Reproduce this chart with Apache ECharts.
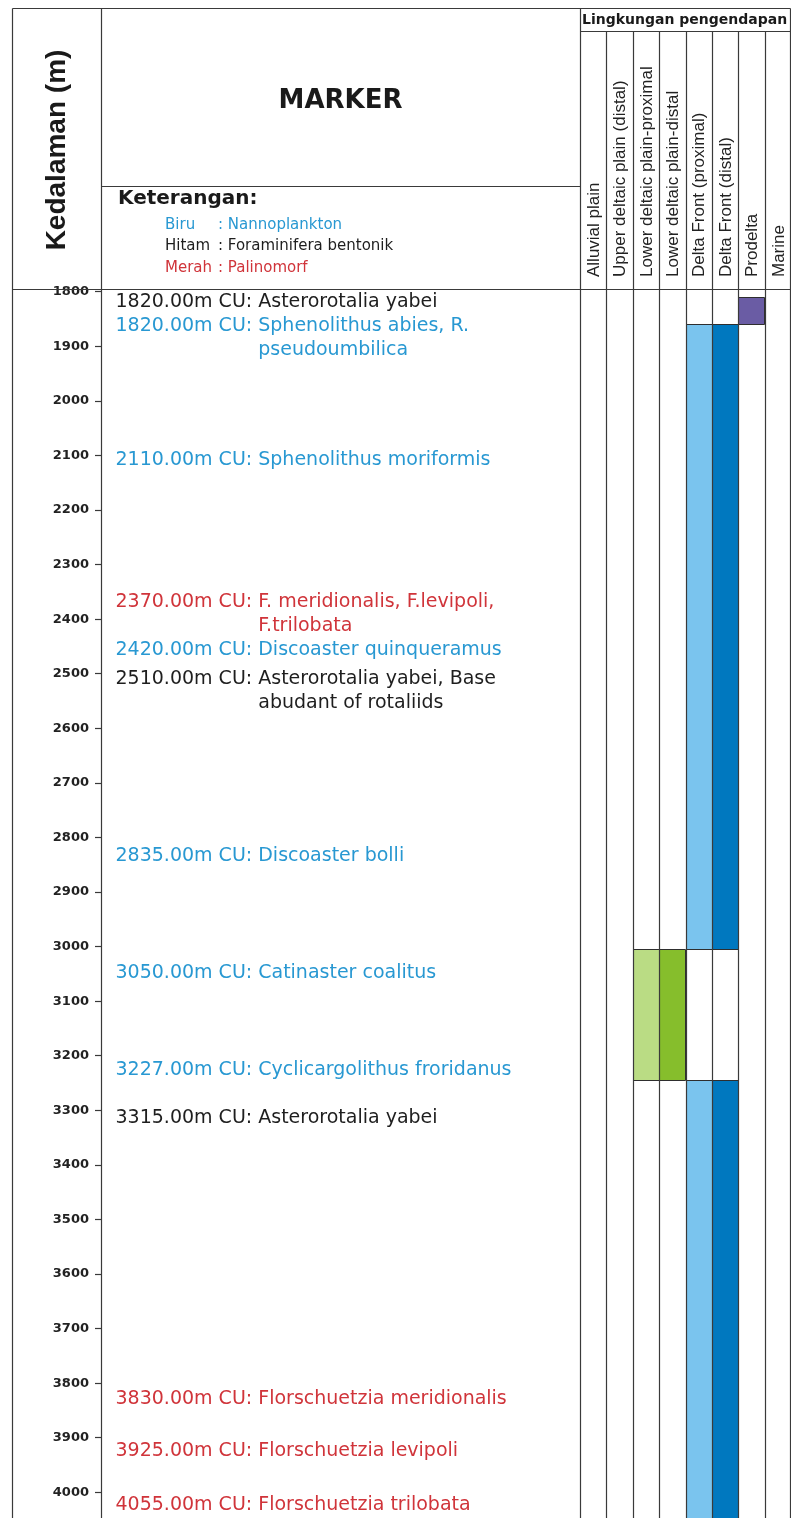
<!DOCTYPE html>
<html>
<head>
<meta charset="utf-8">
<script src="https://cdn.jsdelivr.net/npm/echarts@6/dist/echarts.min.js"></script>
<style>
html,body{margin:0;padding:0;background:#fff;overflow:hidden}
#chart{width:791px;height:1518px}
</style>
</head>
<body>
<div id="chart"></div>
<script>
// ---------------- DATA ----------------
const depthTicks = [1800,1900,2000,2100,2200,2300,2400,2500,2600,2700,2800,2900,3000,3100,3200,3300,3400,3500,3600,3700,3800,3900,4000];

const envColumns = ['Alluvial plain','Upper deltaic plain (distal)','Lower deltaic plain-proximal','Lower deltaic plain-distal','Delta Front (proximal)','Delta Front (distal)','Prodelta','Marine'];

// depositional-environment intervals (depth in m)
const intervalEnv  = ['Prodelta','Delta Front (proximal)','Delta Front (distal)','Lower deltaic plain-proximal','Lower deltaic plain-distal','Delta Front (proximal)','Delta Front (distal)'];
const intervalTop  = [1810,1860,1860,3005,3005,3245,3245];
const intervalBase = [1860,3005,3005,3245,3245,4100,4100];

// markers (CU = cut)
const markerDepth = [1820,1820,2110,2370,2420,2510,2835,3050,3227,3315,3830,3925,4055];
const markerGroup = ['Hitam','Biru','Biru','Merah','Biru','Hitam','Biru','Biru','Biru','Hitam','Merah','Merah','Merah'];
const markerTaxa  = [
  'Asterorotalia yabei',
  'Sphenolithus abies, R.\npseudoumbilica',
  'Sphenolithus moriformis',
  'F. meridionalis, F.levipoli,\nF.trilobata',
  'Discoaster quinqueramus',
  'Asterorotalia yabei, Base\nabudant of rotaliids',
  'Discoaster bolli',
  'Catinaster coalitus',
  'Cyclicargolithus froridanus',
  'Asterorotalia yabei',
  'Florschuetzia meridionalis',
  'Florschuetzia levipoli',
  'Florschuetzia trilobata'
];

const legendGroups  = ['Biru','Hitam','Merah'];
const legendMeaning = ['Nannoplankton','Foraminifera bentonik','Palinomorf'];

// ---------------- STYLE ----------------
const groupColor = {Biru:'#2898d2', Hitam:'#1e1e1e', Merah:'#d0343a'};
const envColor = {
  'Prodelta':'#6a5ca4',
  'Delta Front (proximal)':'#7ac4ee',
  'Delta Front (distal)':'#0078bf',
  'Lower deltaic plain-proximal':'#badc84',
  'Lower deltaic plain-distal':'#86be2c'
};
const LINE = '#3a3a3a';
const FONT = '"DejaVu Sans", sans-serif';
const ARIAL = '"Liberation Sans", Arial, sans-serif';
const MFS = 19, MLH = 24, LABEL_DX = 15;

const F = {left:12.5, top:8.5, right:790.5, depthX:101, markerRight:580, headerBottom:289, ketY:186.5, envHeadY:31.5, bottom:1518};
const Y_MIN = 1795, Y_MAX = 4100, PX_PER_M = 0.5457;
const gridH = (Y_MAX - Y_MIN) * PX_PER_M;
const envLeft = 580, envWidth = 211;
const colW = envWidth / envColumns.length;

// measure hanging indent
const ctx = document.createElement('canvas').getContext('2d');
ctx.font = MFS + 'px ' + FONT;

function buildMarkerData(offsets) {
  return markerDepth.map((d, i) => {
    const prefix = d.toFixed(2) + 'm CU: ';
    const lines = markerTaxa[i].split('\n');
    const indent = ctx.measureText(prefix).width;
    let txt = prefix + lines[0];
    for (let k = 1; k < lines.length; k++) txt += '\n{ind| }' + lines[k];
    return {
      value: [0, d],
      label: {
        formatter: txt,
        color: groupColor[markerGroup[i]],
        position: [LABEL_DX, offsets ? offsets[i] : -MLH / 2],
        rich: {ind: {width: indent, fontSize: MFS, fontFamily: FONT, lineHeight: MLH, color: groupColor[markerGroup[i]]}}
      }
    };
  });
}

const barData = intervalEnv.map((e, i) => ({
  value: [envColumns.indexOf(e), intervalTop[i], intervalBase[i]],
  itemStyle: {color: envColor[e]}
}));

// ---------------- FRAME GRAPHICS ----------------
const g = [];
function line(x1, y1, x2, y2, w) {
  g.push({type:'line', silent:true, z:50, shape:{x1, y1, x2, y2}, style:{stroke:LINE, lineWidth:w || 1.2}});
}
line(F.left, F.top, F.right, F.top);
line(F.left, F.top, F.left, F.bottom);
line(F.right, F.top, F.right, F.bottom);
line(F.depthX + 0.5, F.top, F.depthX + 0.5, F.headerBottom);
line(F.markerRight + 0.5, F.top, F.markerRight + 0.5, F.bottom);
line(F.left, F.headerBottom + 0.5, F.right, F.headerBottom + 0.5);
line(F.depthX, F.ketY, F.markerRight, F.ketY);
line(F.markerRight, F.envHeadY, F.right, F.envHeadY);
for (let i = 1; i < envColumns.length; i++) {
  const x = Math.round(envLeft + i * colW) + 0.5;
  line(x, F.envHeadY, x, F.bottom);
}
envColumns.forEach((name, i) => {
  g.push({type:'text', silent:true, z:60, x: envLeft + (i + 0.5) * colW + 1, y: 277, rotation: Math.PI / 2,
    style:{text:name, font:'17px ' + ARIAL, fill:'#222', align:'left', verticalAlign:'middle'}});
});
g.push({type:'text', silent:true, x:57, y:150, rotation:Math.PI/2,
  style:{text:'Kedalaman (m)', font:'bold 28px ' + ARIAL, fill:'#1a1a1a', align:'center', verticalAlign:'middle'}});
g.push({type:'text', silent:true, x:340.5, y:101,
  style:{text:'MARKER', font:'bold 26px ' + FONT, fill:'#1a1a1a', align:'center', verticalAlign:'middle'}});
g.push({type:'text', silent:true, x:118, y:199,
  style:{text:'Keterangan:', font:'bold 20px ' + FONT, fill:'#1a1a1a', align:'left', verticalAlign:'middle'}});
legendGroups.forEach((name, i) => {
  const y = 225 + i * 21.5;
  g.push({type:'text', silent:true, x:165, y,
    style:{text:name, font:'15px ' + FONT, fill:groupColor[name], align:'left', verticalAlign:'middle'}});
  g.push({type:'text', silent:true, x:218, y,
    style:{text:': ' + legendMeaning[i], font:'15px ' + FONT, fill:groupColor[name], align:'left', verticalAlign:'middle'}});
});
g.push({type:'text', silent:true, x:582, y:20,
  style:{text:'Lingkungan pengendapan', font:'bold 14px ' + FONT, fill:'#1a1a1a', align:'left', verticalAlign:'middle'}});

// ---------------- CHART ----------------
const chart = echarts.init(document.getElementById('chart'), null, {renderer:'canvas'});
const option = {
  animation: false,
  backgroundColor: '#ffffff',
  grid: [
    {left: F.depthX, top: F.headerBottom, width: F.markerRight - F.depthX, height: gridH, outerBoundsMode: 'none', containLabel: false},
    {left: envLeft, top: F.headerBottom, width: envWidth, height: gridH, outerBoundsMode: 'none', containLabel: false}
  ],
  xAxis: [
    {gridIndex: 0, type: 'value', min: 0, max: 1, show: false},
    {gridIndex: 1, type: 'category', data: envColumns, position: 'top', boundaryGap: true,
     axisLine: {show: false}, axisTick: {show: false}, splitLine: {show: false}, axisLabel: {show: false}}
  ],
  yAxis: [
    {gridIndex: 0, type: 'value', inverse: true, min: Y_MIN, max: Y_MAX, position: 'left',
     axisLine: {show: true, lineStyle: {color: LINE, width: 1.2}},
     axisTick: {show: true, length: 6, customValues: depthTicks, lineStyle: {color: LINE, width: 1.2}},
     axisLabel: {customValues: depthTicks, margin: 12, fontSize: 13, fontWeight: 'bold', fontFamily: FONT, color: '#222',
                 formatter: v => String(v)},
     splitLine: {show: false}},
    {gridIndex: 1, type: 'value', inverse: true, min: Y_MIN, max: Y_MAX, show: false}
  ],
  series: [
    {
      type: 'custom', xAxisIndex: 1, yAxisIndex: 1, silent: true, clip: true,
      data: barData,
      renderItem: function (params, api) {
        const c = api.value(0);
        const p1 = api.coord([c, api.value(1)]);
        const p2 = api.coord([c, api.value(2)]);
        const w = api.size([1, 0])[0];
        return {type: 'rect', shape: {x: Math.round(p1[0] - w / 2) + 0.5, y: Math.round(p1[1]) + 0.5, width: Math.round(w), height: Math.round(p2[1] - p1[1])},
                style: {fill: api.visual('color'), stroke: '#2e2e2e', lineWidth: 1}};
      }
    },
    {
      id: 'markers',
      type: 'scatter', xAxisIndex: 0, yAxisIndex: 0, silent: true, clip: false,
      symbolSize: 1, itemStyle: {color: 'rgba(0,0,0,0)', opacity: 1},
      emphasis: {disabled: true},
      label: {show: true, align: 'left', verticalAlign: 'top', opacity: 1,
              fontSize: MFS, fontFamily: FONT, lineHeight: MLH},
      data: buildMarkerData(null)
    }
  ],
  graphic: {elements: g}
};
chart.setOption(option);

// ---- simple vertical de-overlap of marker labels (using the axis scale) ----
const H = chart.getHeight();
const py = markerDepth.map(d => chart.convertToPixel({yAxisIndex: 0}, d));
const hgt = markerTaxa.map(t => t.split('\n').length * MLH);
const tops = py.map(p => p - MLH / 2);
let prevBottom = -Infinity;
for (let i = 0; i < tops.length; i++) {
  if (tops[i] < prevBottom) tops[i] = prevBottom;
  prevBottom = tops[i] + hgt[i];
}
let limit = H;
for (let i = tops.length - 1; i >= 0; i--) {
  if (tops[i] + hgt[i] > limit) tops[i] = limit - hgt[i];
  limit = tops[i];
}
const offsets = tops.map((t, i) => t - py[i]);
chart.setOption({series: [{id: 'markers', data: buildMarkerData(offsets)}]});
</script>
</body>
</html>
